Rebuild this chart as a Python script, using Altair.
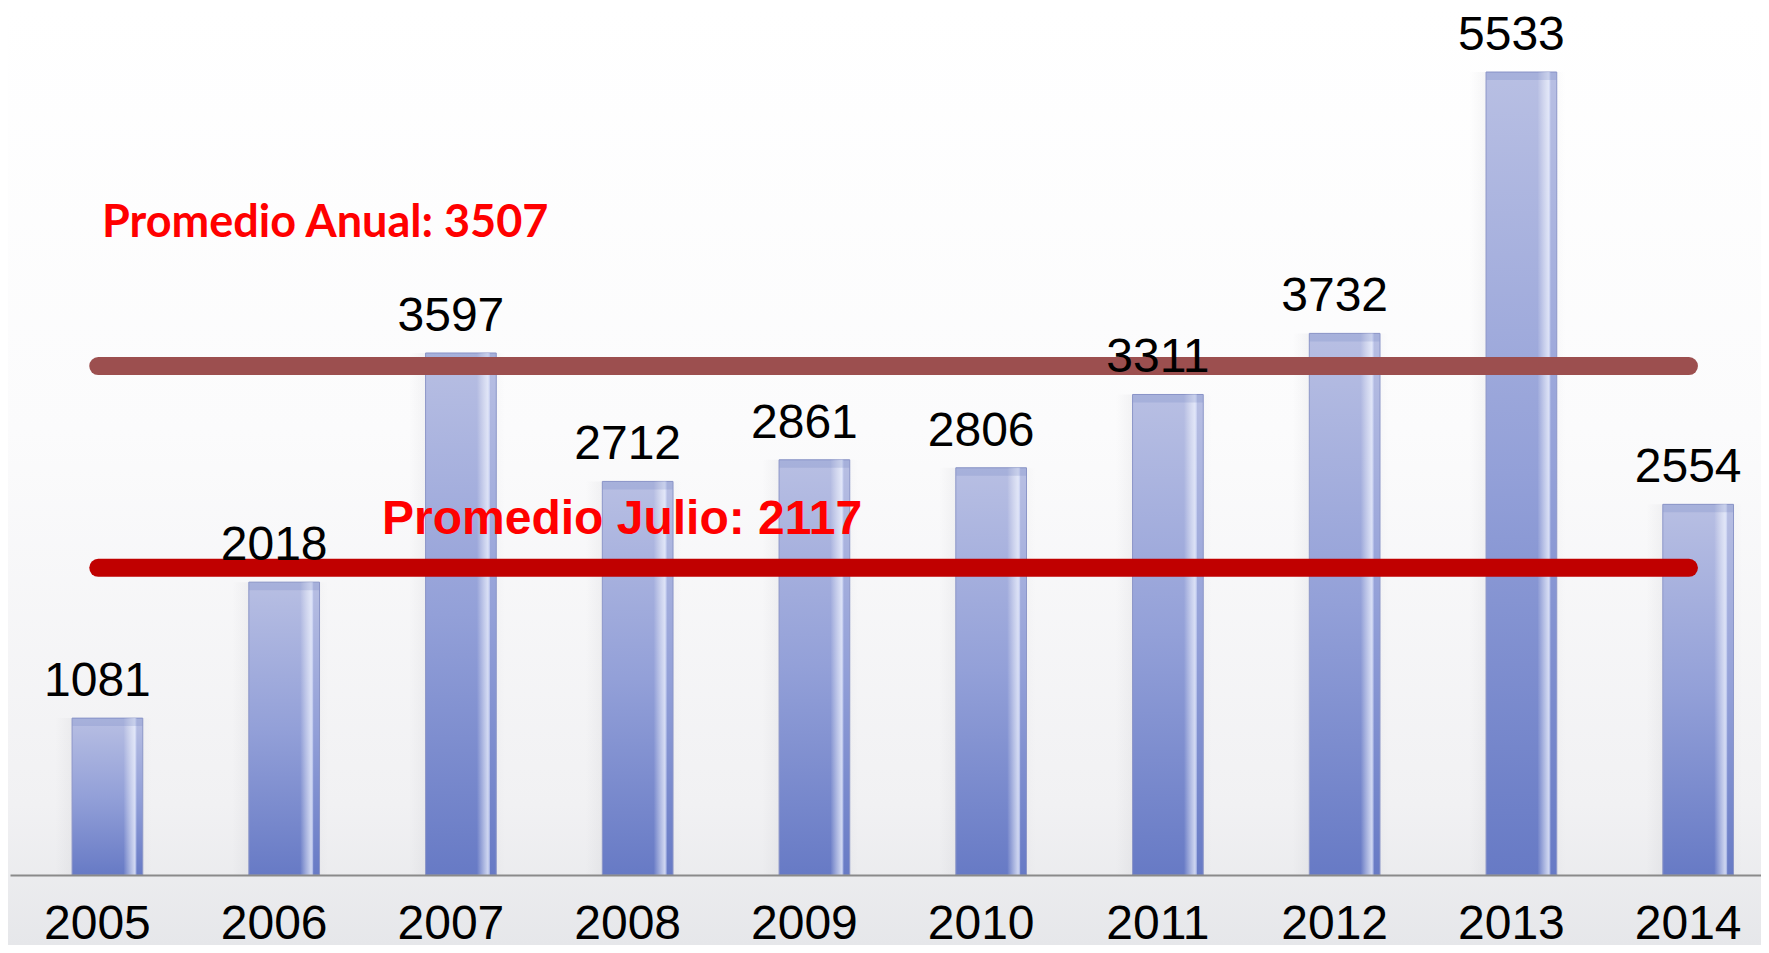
import altair as alt
import pandas as pd

# ---- data ----
years = ["2005", "2006", "2007", "2008", "2009", "2010", "2011", "2012", "2013", "2014"]
values = [1081, 2018, 3597, 2712, 2861, 2806, 3311, 3732, 5533, 2554]

avg_labels = ["Promedio Anual: 3507", "Promedio Julio: 2117"]
avg_values = [3507, 2117]
avg_colors = ["#9c4f4f", "#c00000"]

bars_df = pd.DataFrame({"year": years, "value": values})
avg_df = pd.DataFrame({
    "label": avg_labels,
    "value": avg_values,
    "color": avg_colors,
    "start": [years[0]] * len(avg_values),
    "end": [years[-1]] * len(avg_values),
})

W, H = 1751, 867

x_scale = alt.Scale(domain=years, paddingInner=0.6, paddingOuter=0.2534,
                    align=0.693, round=False)
y_scale = alt.Scale(domain=[0, 5974], nice=False, zero=True)

x_axis = alt.Axis(
    title=None, domain=True, domainColor="#8a8a8a", domainWidth=2,
    ticks=False, tickSize=0, grid=False, labelAngle=0,
    labelFont="Liberation Sans", labelFontSize=48, labelColor="#000000",
    labelPadding=63, labelBaseline="alphabetic", labelOffset=-10, zindex=2,
)

x_enc = alt.X("year:N", scale=x_scale, axis=x_axis)
y_enc = alt.Y("value:Q", scale=y_scale, axis=None)

# background gradient
bg_grad = alt.Gradient(
    gradient="linear", x1=0, x2=0, y1=0, y2=1,
    stops=[alt.GradientStop(color="#ffffff", offset=0),
           alt.GradientStop(color="#fbfbfc", offset=0.45),
           alt.GradientStop(color="#f1f1f3", offset=0.85),
           alt.GradientStop(color="#e6e7ea", offset=1)],
)
background = alt.Chart(pd.DataFrame({"bg": [0]})).mark_rect(color=bg_grad).encode(
    x=alt.value(-2), x2=alt.value(W), y=alt.value(0), y2=alt.value(H + 70)
)

# soft shadow behind bars
shadow_grad = alt.Gradient(
    gradient="linear", x1=0, x2=1, y1=0, y2=0,
    stops=[alt.GradientStop(color="rgba(150,150,160,0)", offset=0),
           alt.GradientStop(color="rgba(150,150,160,0.18)", offset=0.35),
           alt.GradientStop(color="rgba(150,150,160,0.10)", offset=0.75),
           alt.GradientStop(color="rgba(150,150,160,0)", offset=1)],
)
shadow = alt.Chart(bars_df).mark_bar(width=96, xOffset=-4, color=shadow_grad).encode(
    x=x_enc, y=y_enc
)

bar_grad = alt.Gradient(
    gradient="linear", x1=0, x2=0, y1=0, y2=1,
    stops=[alt.GradientStop(color="#b8bfe3", offset=0),
           alt.GradientStop(color="#93a0d8", offset=0.5),
           alt.GradientStop(color="#677ac5", offset=1)],
)
bars = alt.Chart(bars_df).mark_bar(color=bar_grad, stroke="#8c96c8", strokeWidth=1).encode(
    x=x_enc, y=y_enc
)

hl_grad = alt.Gradient(
    gradient="linear", x1=0, x2=1, y1=0, y2=0,
    stops=[alt.GradientStop(color="rgba(255,255,255,0)", offset=0),
           alt.GradientStop(color="rgba(240,244,255,0.75)", offset=0.85),
           alt.GradientStop(color="rgba(220,228,255,0.5)", offset=1)],
)
highlight = alt.Chart(bars_df).mark_bar(width=13, xOffset=22.5, color=hl_grad).encode(
    x=x_enc, y=y_enc
)

top_bevel = alt.Chart(bars_df).mark_tick(
    orient="horizontal", size=70, thickness=8, yOffset=4,
    color="#6f7ec0", opacity=0.22,
).encode(x=x_enc, y=y_enc)

lines = alt.Chart(avg_df).mark_rule(strokeWidth=18, strokeCap="round").encode(
    x=alt.X("start:N", scale=x_scale, axis=x_axis, bandPosition=0.37),
    x2=alt.X2("end:N", bandPosition=0.37),
    y=alt.Y("value:Q", scale=y_scale, axis=None),
    color=alt.Color("color:N", scale=None),
)

value_text = alt.Chart(bars_df).mark_text(
    font="Liberation Sans", fontSize=48, baseline="alphabetic", align="center",
    dx=-10, dy=-22, color="#000000",
).encode(x=x_enc, y=y_enc, text=alt.Text("value:Q", format="d"))

anual_text = alt.Chart(avg_df.iloc[[0]]).mark_text(
    font="Lato", fontWeight="bold", fontSize=45, align="left",
    baseline="alphabetic", color="#ff0000", dy=-129.5,
).encode(x=alt.value(92), y=alt.Y("value:Q", scale=y_scale, axis=None), text="label:N")

julio_text = alt.Chart(avg_df.iloc[[1]]).mark_text(
    font="Liberation Sans", fontWeight="bold", fontSize=48, align="left",
    baseline="alphabetic", color="#ff0000", dy=-34,
).encode(x=alt.value(372), y=alt.Y("value:Q", scale=y_scale, axis=None), text="label:N")

chart = alt.layer(
    background, shadow, bars, highlight, top_bevel, lines, value_text, anual_text, julio_text
).properties(
    width=W, height=H,
    autosize=alt.AutoSizeParams(type="none"),
    padding={"left": 2, "top": 0, "right": 0, "bottom": 70},
    background="#ffffff",
).configure_view(strokeWidth=0)

chart.save("out.html", embed_options={"renderer": "svg", "actions": False})
